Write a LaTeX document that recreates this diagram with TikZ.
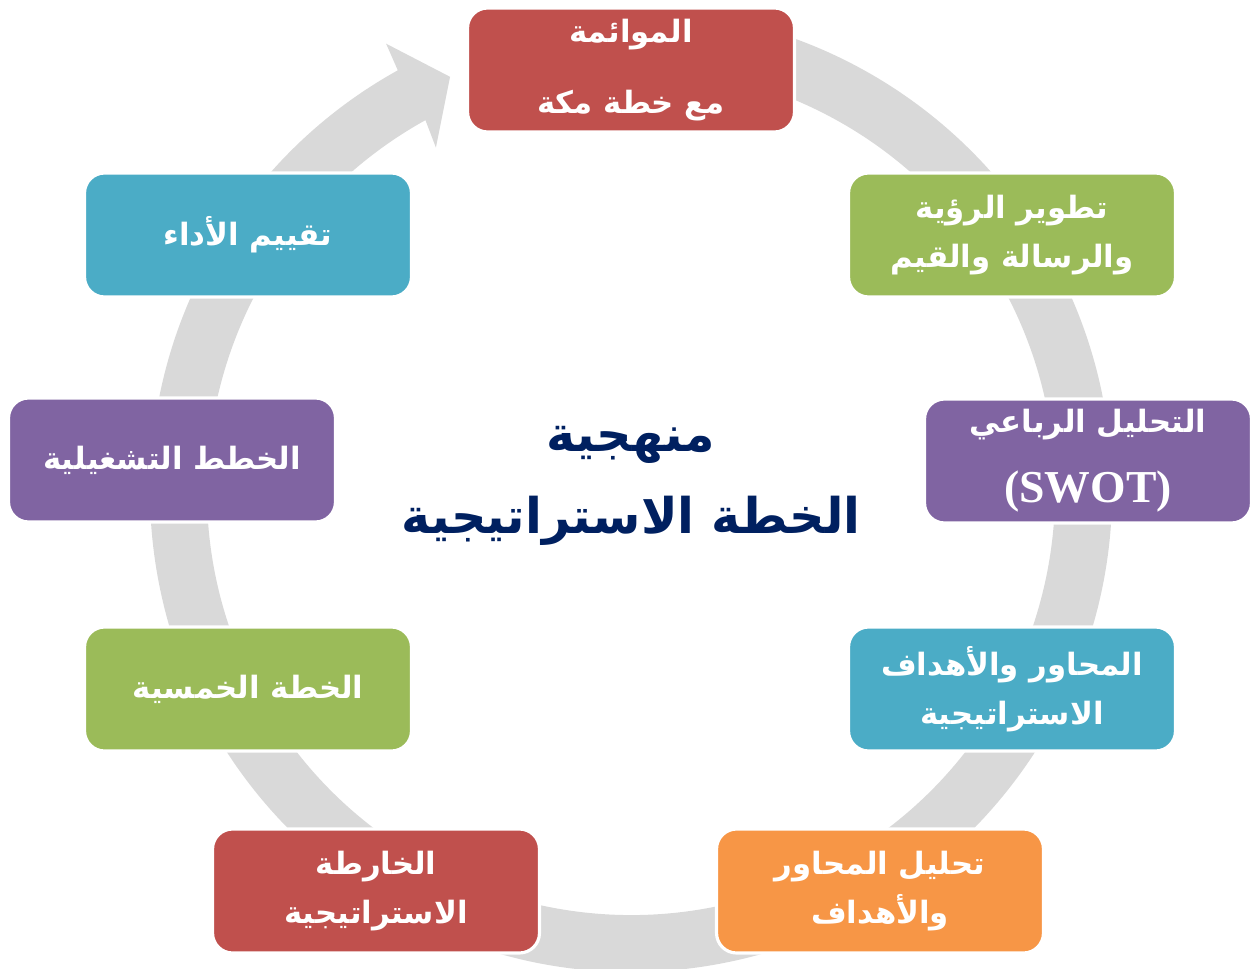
\documentclass[tikz,border=0pt]{standalone}
\usepackage{fontspec}
\setmainfont{Liberation Serif}
\newfontfamily\arabicfont[Script=Arabic]{DejaVu Sans}
\TeXXeTstate=1
\newcommand{\artext}[1]{\beginR #1\endR}

\definecolor{cred}{HTML}{C0504D}
\definecolor{cgreen}{HTML}{9BBB59}
\definecolor{cpurple}{HTML}{8064A2}
\definecolor{cblue}{HTML}{4BACC6}
\definecolor{corange}{HTML}{F79646}
\definecolor{ringgray}{HTML}{D9D9D9}
\definecolor{navy}{HTML}{002060}

\tikzset{
  stagebox/.style={draw=white, line width=1.8pt, rounded corners=0.4cm,
    minimum width=6.54cm, minimum height=2.48cm, inner sep=0pt,
    text=white, align=center,
    font=\arabicfont\bfseries\fontsize{17.5}{28}\selectfont},
  titletext/.style={text=navy, align=center,
    font=\arabicfont\bfseries\fontsize{28}{47}\selectfont}
}

\begin{document}
\begin{tikzpicture}[x=0.02cm,y=0.02cm]
\useasboundingbox (0,0) rectangle (1253,968);

% circular arrow running clockwise, head at the upper left
\begin{scope}
  \clip (0,0) rectangle (1253,968);
  \fill[ringgray, shift={(631,477)}]
    (100:481) arc[start angle=100, end angle=-241, radius=481]
    -- (118.7:510) -- (113.6:452) -- (119.6:395)
    -- (-241:424) arc[start angle=-241, end angle=100, radius=424]
    -- cycle;
\end{scope}

% stages around the cycle
\node[stagebox, fill=cred]    (align)    at (631,898) {\artext{الموائمة}\\[12pt]\artext{مع خطة مكة}};
\node[stagebox, fill=cgreen]  (vision)   at (1012,733) {\artext{تطوير الرؤية}\\\artext{والرسالة والقيم}};
\node[stagebox, fill=cpurple] (swot)     at (1088,507) {\artext{التحليل الرباعي}\\[12pt]{\rmfamily\bfseries\fontsize{26}{28}\selectfont (SWOT)}};
\node[stagebox, fill=cblue]   (axes)     at (1012,279) {\artext{المحاور والأهداف}\\\artext{الاستراتيجية}};
\node[stagebox, fill=corange] (analysis) at (880,77)   {\artext{تحليل المحاور}\\\artext{والأهداف}};
\node[stagebox, fill=cred]    (map)      at (376,77)   {\artext{الخارطة}\\\artext{الاستراتيجية}};
\node[stagebox, fill=cgreen]  (fiveyear) at (248,279)  {\artext{الخطة الخمسية}};
\node[stagebox, fill=cpurple] (ops)      at (172,508)  {\artext{الخطط التشغيلية}};
\node[stagebox, fill=cblue]   (perf)     at (248,733)  {\artext{تقييم الأداء}};

% centre title
\node[titletext] (title) at (631,482) {\artext{منهجية}\\\artext{الخطة الاستراتيجية}};
\end{tikzpicture}
\end{document}
